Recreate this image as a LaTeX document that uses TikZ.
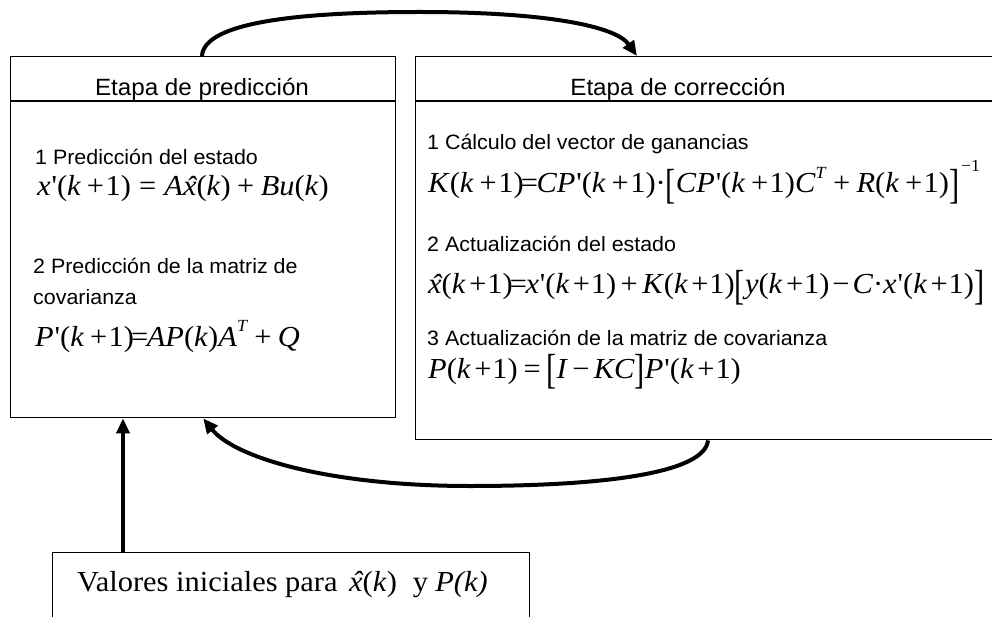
\documentclass[tikz,border=0pt]{standalone}
\usepackage{fontspec}
\usepackage{graphicx}
\setmainfont{Liberation Sans}[FakeStretch=1.03]
\newfontfamily\tms{Liberation Serif}[FakeStretch=1.05,Ligatures=TeXOff]
\usetikzlibrary{arrows.meta,calc}
\newcommand\I[1]{\textit{#1}}
\newcommand\kp{(\I{k}\kern.2em+\kern.05em1)}
\newcommand\kq{(\I{k}\kern.12em+\kern.03em1)}
\newcommand\eqs{\kern.28em=\kern.28em}
\newcommand\eqq{\kern.2em=\kern.2em}
\newcommand\eqt{\kern-.1em=\kern-.05em}
\newcommand\pls{\kern.22em+\kern.22em}
\newcommand\plq{\kern.15em+\kern.15em}
\newcommand\mns{\kern.15em−\kern.15em}
\newcommand\mnq{\kern.1em−\kern.1em}
\newcommand\LB{\raisebox{-.2em}{\scalebox{1}[1.45]{[}}}
\newcommand\RB{\raisebox{-.2em}{\scalebox{1}[1.45]{]}}}
\newcommand\hx{\I{\makebox[0pt][l]{\kern.1em\raisebox{-.02em}{ˆ}}x}}
\newcommand\pr{\kern.03em'}
\newcommand\sT{\raisebox{.5em}{\fontsize{17}{17}\selectfont\I{T}}}
\newcommand\sM{\raisebox{.74em}{\fontsize{17}{17}\selectfont −1}}
\begin{document}
\begin{tikzpicture}[x=1pt,y=-1pt,
  box/.style={draw,line width=1.4pt,inner sep=0pt,anchor=north west},
  txt/.style={anchor=base west,inner sep=0pt,font=\fontsize{20.8}{24}\selectfont},
  ttl/.style={anchor=base,inner sep=0pt,font=\fontsize{23.5}{27}\selectfont},
  fml/.style={anchor=base west,inner sep=0pt,font=\tms\fontsize{29}{34}\selectfont},
  ini/.style={anchor=base west,inner sep=0pt,font=\tms\fontsize{29}{34}\selectfont},
  arr/.style={line width=4pt,-{Triangle[length=15pt,width=13pt]}}]
\useasboundingbox (0,0) rectangle (992,617);
\clip (0,0) rectangle (992,617);
% boxes
\node[box,minimum width=385pt,minimum height=361pt] (pred) at (10,56) {};
\node[box,minimum width=600pt,minimum height=383pt] (corr) at (415,56) {};
\node[box,minimum width=477pt,minimum height=90pt] (init) at (52,552) {};
\draw[line width=1.4pt] ($(pred.north west)+(0,45)$) -- ($(pred.north east)+(0,45)$);
\draw[line width=1.4pt] ($(corr.north west)+(0,45)$) -- ($(corr.north east)+(0,45)$);
% left texts
\node[ttl] (t1) at (202,96) {Etapa de predicción};
\node[txt] (a1) at (35,165) {1 Predicción del estado};
\node[fml] (f1) at (37,196) {\I{x}\pr\kp\eqs\I{A}\hx(\I{k})\pls\I{Bu}(\I{k})};
\node[txt] (a2) at (33,274) {2 Predicción de la matriz de};
\node[txt] (a3) at (33,305) {covarianza};
\node[fml] (f2) at (35,346) {\I{P}\pr\kp\eqt\I{AP}(\I{k})\I{A}\sT\pls\I{Q}};
% right texts
\node[ttl] (t2) at (678,96) {Etapa de corrección};
\node[txt] (b1) at (427,150) {1 Cálculo del vector de ganancias};
\node[fml] (g1) at (428,193) {\I{K}\kp\eqt\I{CP}\pr\kp·\LB\I{CP}\pr\kp\I{C}\sT\pls\I{R}\kp\RB\kern.06em\sM};
\node[txt] (b2) at (427,252) {2 Actualización del estado};
\node[fml] (g2) at (428,294) {\hx\kq\eqt\I{x}\pr\kq\plq\I{K}\kq\LB\I{y}\kq\mnq\I{C}·\I{x}\pr\kq\RB};
\node[txt] (b3) at (427,345) {3 Actualización de la matriz de covarianza};
\node[fml] (g3) at (428,378) {\I{P}\kq\eqq\LB\I{I}\mns\I{KC}\RB\I{P}\pr\kq};
% bottom text
\node[ini] (iv) at (77,591) {Valores iniciales para\kern.4em\hx(\I{k})\kern.55em y\kern.25em\I{P(k)}};
% connectors
\coordinate (s1) at ($(pred.north west)+(192,0)$);
\coordinate (e1) at ($(corr.north west)+(222,0)$);
\draw[arr] (s1) .. controls (204,22) and (300,12) .. (420,12) .. controls (540,12) and (615,25) .. (e1);
\coordinate (s2) at ($(corr.south west)+(293,0)$);
\draw[arr] (s2) .. controls (705,472) and (610,486) .. (470,486) .. controls (330,486) and (235,458) .. (pred.south);
\coordinate (s3) at ($(init.north west)+(71,0)$);
\draw[arr] (s3) -- (s3 |- pred.south);
\end{tikzpicture}
\end{document}
